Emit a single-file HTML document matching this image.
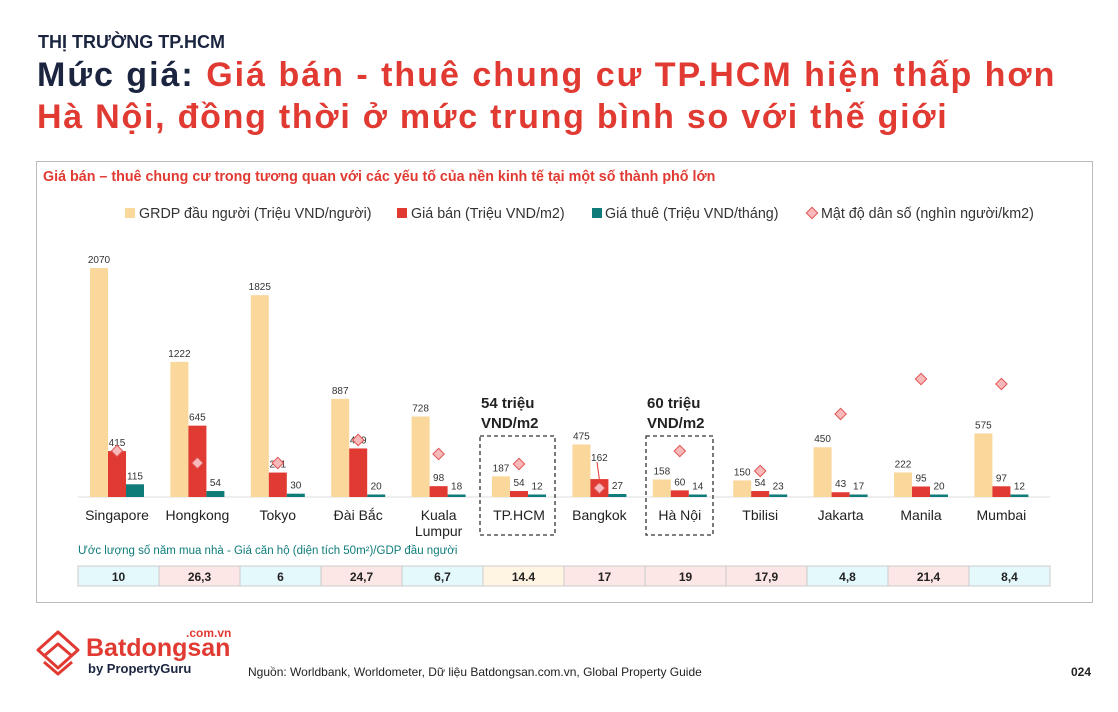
<!DOCTYPE html>
<html><head><meta charset="utf-8"><style>
body{margin:0;width:1118px;height:712px;background:#fff;font-family:"Liberation Sans",sans-serif;position:relative;overflow:hidden}
.abs{position:absolute;white-space:nowrap}
</style></head><body>
<div class="abs" style="left:38px;top:32px;font-size:18px;font-weight:bold;color:#1b2540">THỊ TRƯỜNG TP.HCM</div>
<div class="abs" style="left:37px;top:56px;font-size:34px;font-weight:bold;color:#e03a32;letter-spacing:2px"><span style="color:#1b2540">Mức giá:</span> Giá bán - thuê chung cư TP.HCM hiện thấp hơn</div>
<div class="abs" style="left:37px;top:98px;font-size:34px;font-weight:bold;color:#e03a32;letter-spacing:1.75px">Hà Nội, đồng thời ở mức trung bình so với thế giới</div>
<div class="abs" style="left:36px;top:161px;width:1055px;height:440px;border:1px solid #bbb"></div>
<svg class="abs" style="left:0;top:0" width="1118" height="712" font-family="Liberation Sans, sans-serif">
<text x="43" y="181" font-size="14.3" font-weight="bold" fill="#e03a32">Giá bán – thuê chung cư trong tương quan với các yếu tố của nền kinh tế tại một số thành phố lớn</text>
<g font-size="14.3" fill="#333">
<rect x="125" y="208" width="10" height="10" fill="#fad79b"/><text x="139" y="218">GRDP đầu người (Triệu VND/người)</text>
<rect x="397" y="208" width="10" height="10" fill="#e03a32"/><text x="411" y="218">Giá bán (Triệu VND/m2)</text>
<rect x="592" y="208" width="10" height="10" fill="#0f7c7a"/><text x="605" y="218">Giá thuê (Triệu VND/tháng)</text>
<rect x="808" y="209" width="8" height="8" fill="#f7b9b9" stroke="#e05252" transform="rotate(45 812 213)"/><text x="821" y="218">Mật độ dân số (nghìn người/km2)</text>
</g>
<line x1="78" y1="497" x2="1050" y2="497" stroke="#ddd"/>
<g id="bars"></g>
<rect x="480" y="436" width="75" height="99" fill="none" stroke="#333" stroke-dasharray="4,3" stroke-width="1.3"/>
<rect x="646" y="436" width="67" height="99" fill="none" stroke="#333" stroke-dasharray="4,3" stroke-width="1.3"/>
<g font-size="15" font-weight="bold" fill="#222">
<text x="481" y="408">54 triệu</text><text x="481" y="428">VND/m2</text>
<text x="647" y="408">60 triệu</text><text x="647" y="428">VND/m2</text>
</g>
<text x="78" y="554" font-size="11.5" fill="#0f7c7a">Ước lượng số năm mua nhà - Giá căn hộ (diện tích 50m²)/GDP đầu người</text>
<g id="tbl"></g>
<text x="248" y="676" font-size="12" fill="#222">Nguồn: Worldbank, Worldometer, Dữ liệu Batdongsan.com.vn, Global Property Guide</text>
<text x="1071" y="676" font-size="12" font-weight="bold" fill="#222">024</text>
<g fill="none" stroke="#e03a32" stroke-width="3" stroke-linejoin="round">
<path d="M38 650 L58 632 L78 650 L58 668 Z"/><path d="M44 656 L58 644 L72 656"/><path d="M44 662 L58 674 L72 662"/>
</g>
<text x="186" y="637" font-size="12" font-weight="bold" fill="#e03a32">.com.vn</text>
<text x="86" y="656" font-size="25" font-weight="bold" fill="#e03a32">Batdongsan</text>
<text x="88" y="673" font-size="13" font-weight="bold" fill="#1b2540">by PropertyGuru</text>
</svg>
<script>
const d=[["Singapore",2070,415,115,451,"10","#e4f9fc"],["Hongkong",1222,645,54,463,"26,3","#fde6e6"],["Tokyo",1825,221,30,463,"6","#e4f9fc"],["Đài Bắc",887,439,20,440,"24,7","#fde6e6"],["Kuala|Lumpur",728,98,18,454,"6,7","#e4f9fc"],["TP.HCM",187,54,12,464,"14.4","#fff5e2"],["Bangkok",475,162,27,488,"17","#fde6e6"],["Hà Nội",158,60,14,451,"19","#fde6e6"],["Tbilisi",150,54,23,471,"17,9","#fde6e6"],["Jakarta",450,43,17,414,"4,8","#e4f9fc"],["Manila",222,95,20,379,"21,4","#fde6e6"],["Mumbai",575,97,12,384,"8,4","#e4f9fc"]];
const s=0.1106,B=497;let h="",t="";
d.forEach((r,i)=>{const c=117+i*80.4;
[[r[1],"#fad79b",-27],[r[2],"#e03a32",-9],[r[3],"#0f7c7a",9]].forEach(([v,col,o])=>{const hh=Math.max(v*s,2.5);
h+=`<rect x="${c+o}" y="${B-hh}" width="18" height="${hh}" fill="${col}"/>`;
let ty=B-hh-5; if(i==6&&col=="#e03a32")ty=B-hh-18;
h+=`<text x="${c+o+9}" y="${ty}" font-size="10" fill="#333" text-anchor="middle">${v}</text>`;});
h+=`<rect x="${c-4}" y="${r[4]-4}" width="8" height="8" fill="#f7b9b9" stroke="#e05252" transform="rotate(45 ${c} ${r[4]})"/>`;
const L=r[0].split("|");L.forEach((l,j)=>h+=`<text x="${c}" y="${520+j*16}" font-size="14" fill="#222" text-anchor="middle">${l}</text>`);
const x=78+i*81;t+=`<rect x="${x}" y="566" width="81" height="20" fill="${r[6]}" stroke="#ccc"/><text x="${x+40.5}" y="581" font-size="12" font-weight="bold" fill="#222" text-anchor="middle">${r[5]}</text>`;});
h+=`<line x1="597" y1="462" x2="600" y2="484" stroke="#e03a32"/>`;
document.getElementById("bars").innerHTML=h;document.getElementById("tbl").innerHTML=t;
</script>
</body></html>
